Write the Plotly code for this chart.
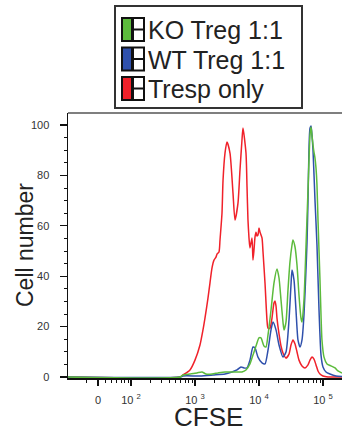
import plotly.graph_objects as go

# ---------------- data ----------------
# x values are log10(CFSE intensity); y values are cell number (% of max)
red_logx = [1.016, 2.766, 2.813, 2.922, 3.0, 3.078, 3.125, 3.156, 3.203, 3.234, 3.266,
            3.297, 3.328, 3.344, 3.375, 3.391, 3.422, 3.438, 3.469, 3.5, 3.547, 3.594,
            3.625, 3.672, 3.703, 3.734, 3.75, 3.797, 3.813, 3.828, 3.844, 3.859, 3.891,
            3.906, 3.922, 3.938, 3.953, 3.969, 3.984, 4.0, 4.016, 4.047, 4.063, 4.094,
            4.125, 4.141, 4.172, 4.203, 4.234, 4.25, 4.266, 4.281, 4.313, 4.344, 4.375,
            4.422, 4.469, 4.5, 4.531, 4.563, 4.594, 4.625, 4.672, 4.719, 4.766, 4.797,
            4.828, 4.859, 4.891, 4.922, 4.953, 5.0, 5.078, 5.297]
red_cells = [0, 0, 0.8, 2.8, 6.7, 12.7, 18.7, 23.4, 31.3, 37.3, 43.3,
             46.4, 47.6, 48.8, 49.6, 54.4, 65.0, 78.0, 88.9, 93.3, 88.9, 73.0,
             62.3, 69.0, 82.1, 94.0, 98.8, 88.9, 75.4, 62.3, 55.2, 51.2, 55.2,
             46.4, 50.4, 55.6, 57.5, 56.0, 56.3, 59.1, 57.5, 55.2, 49.6, 37.3,
             22.6, 19.4, 19.4, 23.4, 29.4, 30.2, 28.2, 23.4, 17.1, 12.3, 9.5,
             7.5, 9.1, 12.7, 14.7, 13.1, 9.9, 6.7, 4.4, 3.6, 4.8, 6.7,
             7.9, 7.1, 4.8, 2.4, 1.2, 0.4, 0, 0]

blue_logx = [1.016, 2.766, 2.813, 3.078, 3.281, 3.469, 3.578, 3.656, 3.719, 3.766, 3.813,
             3.859, 3.906, 3.938, 3.984, 4.047, 4.094, 4.141, 4.188, 4.219, 4.266, 4.313,
             4.375, 4.422, 4.469, 4.5, 4.516, 4.547, 4.578, 4.609, 4.641, 4.672, 4.703,
             4.734, 4.75, 4.766, 4.781, 4.797, 4.813, 4.828, 4.844, 4.875, 4.906, 4.938,
             4.969, 5.0, 5.047, 5.109, 5.203, 5.297]
blue_cells = [0, 0, 0.4, 0.4, 0.8, 1.2, 2.0, 2.8, 4.0, 3.6, 3.6,
              6.7, 11.9, 11.5, 7.9, 5.6, 5.2, 10.7, 18.7, 21.8, 18.7, 12.7,
              7.9, 9.9, 22.6, 36.5, 42.5, 38.5, 26.6, 14.7, 11.9, 14.7, 24.6,
              42.5, 53.2, 70.2, 90.1, 98.8, 99.6, 96.0, 90.1, 70.2, 52.4, 26.6,
              8.7, 4.0, 2.0, 1.2, 0.4, 0.2]

green_logx = [1.016, 2.766, 2.813, 2.922, 3.031, 3.109, 3.172, 3.266, 3.359, 3.469, 3.625,
              3.734, 3.797, 3.859, 3.906, 3.953, 4.0, 4.031, 4.078, 4.109, 4.141, 4.188,
              4.234, 4.281, 4.313, 4.344, 4.375, 4.391, 4.422, 4.453, 4.484, 4.516, 4.531,
              4.563, 4.594, 4.625, 4.656, 4.672, 4.703, 4.734, 4.766, 4.797, 4.813, 4.828,
              4.844, 4.859, 4.875, 4.891, 4.906, 4.922, 4.953, 4.969, 4.984, 5.016, 5.063,
              5.125, 5.188, 5.234, 5.297]
green_cells = [0, 0, 0.8, 1.2, 1.6, 2.0, 1.2, 1.2, 1.6, 2.0, 2.0,
               2.0, 2.8, 5.2, 8.7, 12.3, 15.5, 15.5, 12.3, 11.9, 16.7, 26.6,
               37.3, 42.9, 39.3, 30.6, 21.8, 18.7, 21.8, 34.5, 45.6, 52.4, 54.4,
               51.6, 44.4, 32.5, 23.4, 21.8, 30.6, 51.6, 74.2, 96.0, 99.2, 96.0,
               92.1, 89.3, 86.9, 82.9, 76.2, 62.3, 38.5, 24.6, 14.7, 7.9, 5.2,
               4.4, 3.6, 2.4, 1.6]

series_names = ["KO Treg 1:1", "WT Treg 1:1", "Tresp only"]
series_colors = ["#5cbb3c", "#2f50ac", "#f0212a"]

x_tick_vals = [30.5, 1e2, 1e3, 1e4, 1e5]
x_tick_text = ["0", "10 <sup>2</sup>", "10 <sup>3</sup>", "10 <sup>4</sup>", "10 <sup>5</sup>"]
y_tick_vals = [0, 20, 40, 60, 80, 100]

# ---------------- figure ----------------
fig = go.Figure()
series = {
    "Tresp only": (red_logx, red_cells),
    "WT Treg 1:1": (blue_logx, blue_cells),
    "KO Treg 1:1": (green_logx, green_cells),
}
color_of = dict(zip(series_names, series_colors))
for name in ["Tresp only", "WT Treg 1:1", "KO Treg 1:1"]:
    lx, v = series[name]
    fig.add_trace(go.Scatter(
        x=[10 ** a for a in lx], y=v, mode="lines", name=name,
        line=dict(color=color_of[name], width=1.5, shape="spline", smoothing=0.6),
        showlegend=False, hoverinfo="skip"))

minor_x = [m * 10 ** d for d in range(1, 6) for m in range(2, 10)]

fig.update_xaxes(
    type="log", range=[1.016, 5.297], automargin=False,
    showgrid=False, zeroline=False,
    showline=True, linecolor="#111", linewidth=1.5,
    ticks="outside", ticklen=6, tickwidth=1.2, tickcolor="#111",
    tickmode="array", tickvals=x_tick_vals, ticktext=x_tick_text,
    minor=dict(tickmode="array", tickvals=minor_x, ticks="outside",
               ticklen=3, tickwidth=1, tickcolor="#111", showgrid=False),
    tickfont=dict(family="Liberation Sans", size=11, color="#333"),
    ticklabelstandoff=5,
)
fig.update_yaxes(
    range=[-0.4, 104.8], automargin=False,
    showgrid=False, zeroline=False,
    showline=True, linecolor="#111", linewidth=1.5,
    ticks="outside", ticklen=7, tickwidth=1.2, tickcolor="#111",
    tickmode="array", tickvals=y_tick_vals,
    minor=dict(dtick=5, ticks="outside", ticklen=3, tickwidth=1,
               tickcolor="#111", showgrid=False),
    tickfont=dict(family="Liberation Sans", size=11, color="#333"),
    ticklabelstandoff=8,
)

# plot area in pixels: x 68..342, y 113..378
L, R, T, B = 68, 342, 113, 378
W, H = R - L, B - T


def px(x):
    return (x - L) / W


def py(y):
    return (B - y) / H


shapes = [
    # top frame line
    dict(type="line", xref="paper", yref="paper", x0=0, x1=1, y0=1, y1=1,
         line=dict(color="#555", width=1.5)),
    # legend box
    dict(type="rect", xref="paper", yref="paper", x0=px(115), x1=px(302),
         y0=py(108), y1=py(6), line=dict(color="#333", width=2), fillcolor="white",
         layer="above"),
]
annotations = [
    dict(xref="paper", yref="paper", x=px(208), y=py(417), xanchor="center",
         yanchor="middle", text="CFSE", showarrow=False,
         font=dict(family="Liberation Sans", size=26, color="#222")),
    dict(xref="paper", yref="paper", x=px(25), y=py(245), xanchor="center",
         yanchor="middle", text="Cell number", showarrow=False, textangle=-90,
         font=dict(family="Liberation Sans", size=23, color="#222")),
]
row_tops = [17, 46.5, 76]
for name, color, top in zip(series_names, series_colors, row_tops):
    bot = top + 25
    shapes.append(dict(type="rect", xref="paper", yref="paper", x0=px(121), x1=px(145),
                       y0=py(bot), y1=py(top), line=dict(width=0), fillcolor="#111",
                       layer="above"))
    shapes.append(dict(type="rect", xref="paper", yref="paper", x0=px(123), x1=px(131),
                       y0=py(bot - 2), y1=py(top + 2), line=dict(width=0), fillcolor=color,
                       layer="above"))
    mid = top + 12.5
    shapes.append(dict(type="rect", xref="paper", yref="paper", x0=px(134), x1=px(143),
                       y0=py(mid - 1), y1=py(top + 2), line=dict(width=0), fillcolor="white",
                       layer="above"))
    shapes.append(dict(type="rect", xref="paper", yref="paper", x0=px(134), x1=px(143),
                       y0=py(bot - 2), y1=py(mid + 1), line=dict(width=0), fillcolor="white",
                       layer="above"))
    annotations.append(dict(xref="paper", yref="paper", x=px(146), y=py(mid + 1),
                            xanchor="left", yanchor="middle", text=name, showarrow=False,
                            font=dict(family="Liberation Sans", size=25, color="#222")))

fig.update_layout(
    width=342, height=432,
    margin=dict(l=L, r=342 - R, t=T, b=432 - B, pad=0),
    paper_bgcolor="white", plot_bgcolor="white",
    shapes=shapes, annotations=annotations,
    showlegend=False,
)

fig.write_html(
    "out.html",
    config={"displayModeBar": False, "staticPlot": True},
    post_script="document.body.style.margin='0';document.body.style.overflow='hidden';",
)
